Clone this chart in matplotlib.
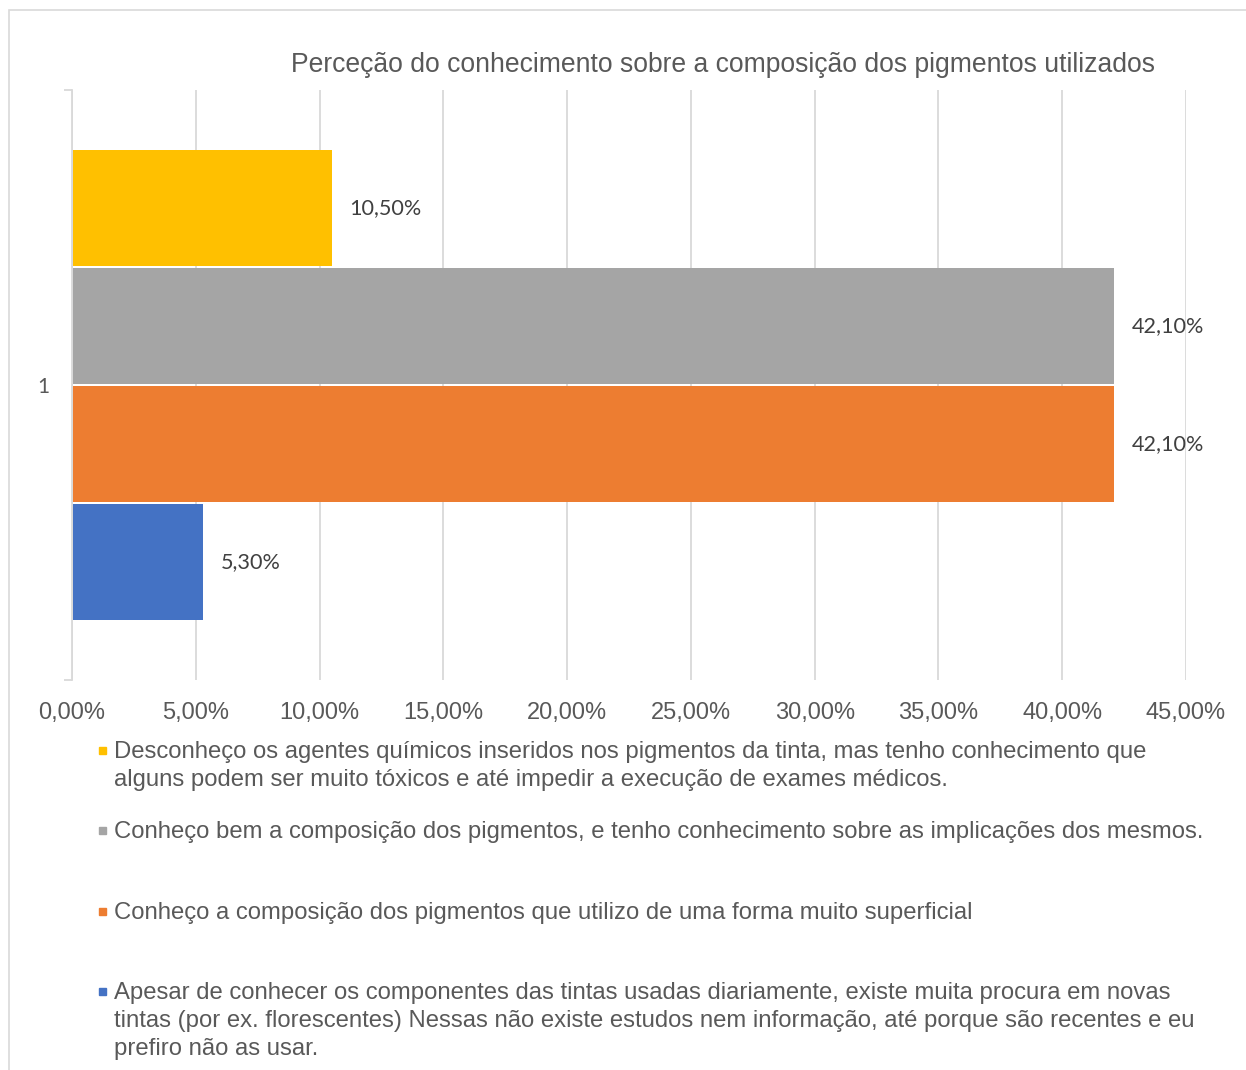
import matplotlib
matplotlib.use("Agg")
import matplotlib.pyplot as plt
from matplotlib.patches import Rectangle

# dados (ordem da legenda, de cima para baixo)
respostas = [
    "Desconheço os agentes químicos inseridos nos pigmentos da tinta, mas tenho conhecimento que\nalguns podem ser muito tóxicos e até impedir a execução de exames médicos.",
    "Conheço bem a composição dos pigmentos, e tenho conhecimento sobre as implicações dos mesmos.",
    "Conheço a composição dos pigmentos que utilizo de uma forma muito superficial",
    "Apesar de conhecer os componentes das tintas usadas diariamente, existe muita procura em novas\ntintas (por ex. florescentes) Nessas não existe estudos nem informação, até porque são recentes e eu\nprefiro não as usar.",
]
valores = [10.5, 42.1, 42.1, 5.3]
cores = ["#FFC000", "#A5A5A5", "#ED7D31", "#4472C4"]
xticks = [0, 5, 10, 15, 20, 25, 30, 35, 40, 45]

W, H = 1246, 1070
fig = plt.figure(figsize=(W / 100, H / 100), dpi=100)
plt.rcParams['font.family'] = ['Liberation Sans', 'DejaVu Sans']

# moldura do gráfico
fig.patches.append(Rectangle((9 / W, -0.1), 1.2, 1 - 10 / H + 0.1, transform=fig.transFigure,
                             fill=False, edgecolor="#D9D9D9", linewidth=1.2))

ax = fig.add_axes([72 / W, 1 - 680 / H, (1186 - 72) / W, (680 - 90) / H])

n = len(valores)
passo = 0.2
for i, (v, c) in enumerate(zip(valores, cores)):
    y = (n - 1) / 2 * passo - i * passo
    ax.barh(y, v - 0.05, left=0.05, height=0.195, color=c, zorder=3)
    ax.text(v + 0.7, y, ("%.2f%%" % v).replace(".", ","), va="center", ha="left",
            fontsize=15.6, color="#404040", family=["Lato", "DejaVu Sans"], zorder=4)

ax.set_xlim(0, 45)
ax.set_ylim(-0.5, 0.5)
ax.set_xticks(xticks)
ax.set_xticklabels([("%.2f%%" % t).replace(".", ",") for t in xticks], fontsize=17, color="#595959")
ax.tick_params(axis="x", length=0, pad=16)
ax.grid(axis="x", color="#D9D9D9", linewidth=1.3, zorder=0)

ax.set_yticks([0])
ax.set_yticklabels(["1"], fontsize=15, color="#595959", family=["Lato", "DejaVu Sans"])
ax.set_yticks([-0.5, 0.5], minor=True)
ax.tick_params(axis="y", which="major", length=0, pad=16)
ax.tick_params(axis="y", which="minor", length=6, color="#D9D9D9", width=1.3)

for s in ["top", "right", "bottom"]:
    ax.spines[s].set_visible(False)
ax.spines["left"].set_color("#D9D9D9")
ax.spines["left"].set_linewidth(1.3)

fig.text(723 / W, 1 - 65 / H, "Perceção do conhecimento sobre a composição dos pigmentos utilizados",
         ha="center", va="center", fontsize=19.1, color="#595959")

# legenda
topos = [750, 830, 911, 991]
for txt, c, yt in zip(respostas, cores, topos):
    fig.patches.append(Rectangle((99 / W, 1 - (yt + 4) / H), 7 / W, 7 / H,
                                 transform=fig.transFigure, color=c))
    fig.text(114 / W, 1 - (yt - 9) / H, txt, ha="left", va="top", fontsize=17.2,
             color="#595959", linespacing=1.36)

fig.savefig("out.png", dpi=100)
